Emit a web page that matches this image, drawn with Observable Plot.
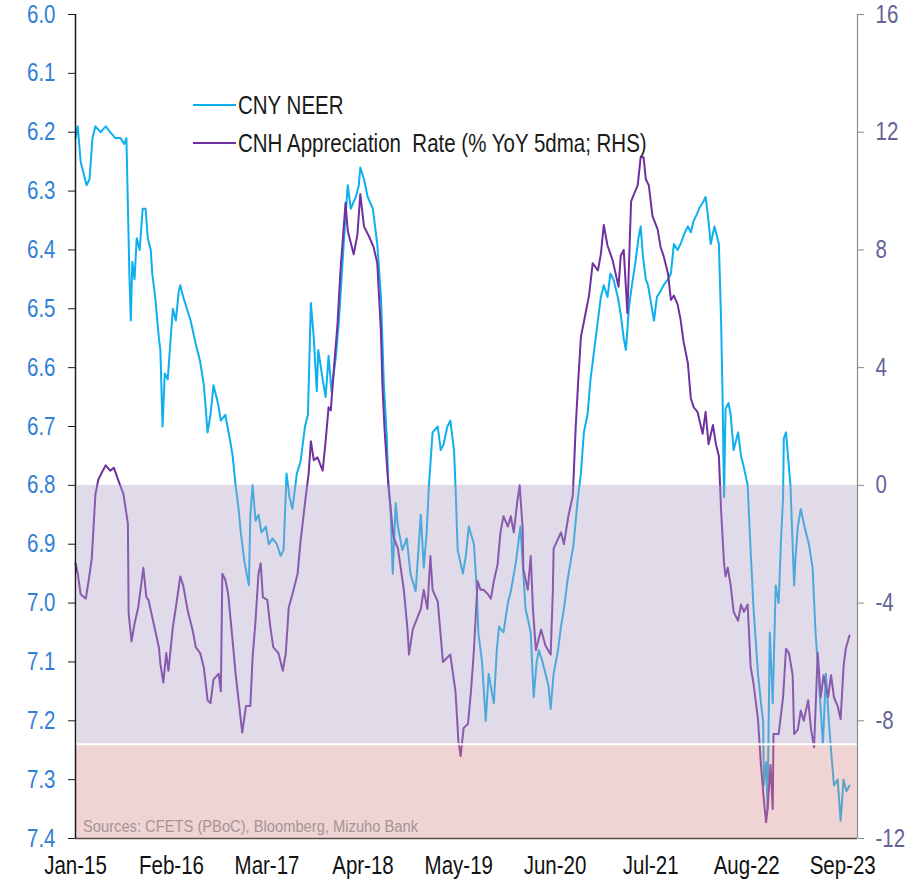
<!DOCTYPE html>
<html>
<head>
<meta charset="utf-8">
<script src="https://cdn.jsdelivr.net/npm/d3@7"></script>
<script src="https://cdn.jsdelivr.net/npm/@observablehq/plot@0.6"></script>
<style>
  html, body { margin: 0; padding: 0; background: #fff; }
  #wrap { position: relative; width: 912px; height: 881px; overflow: hidden; }
  #legend { position: absolute; left: 193px; top: 86px; font-family: 'Liberation Sans', Arial, sans-serif; font-size: 25px; color: #1a1a1a; }
  .row { display: flex; align-items: center; height: 38px; white-space: pre; }
  .sw { width: 43px; height: 2px; margin-right: 2px; flex: none; }
  .lbl { display: inline-block; transform: scaleX(0.82); transform-origin: left center; }
  #source { position: absolute; left: 83px; top: 818px; font-family: 'Liberation Sans', Arial, sans-serif; font-size: 16px; color: #a49494; white-space: pre; transform-origin: left center; }
</style>
</head>
<body>
<div id="wrap"></div>
<script>
// ---- Data ----
// CNY NEER (LHS, inverted axis): months since Jan-2015 and index level
const monthsNeer = [
  0.0,0.3,0.7,1.1,1.5,1.9,2.3,2.7,3.4,4.1,
  4.7,5.4,6.1,6.6,6.9,7.3,7.5,7.7,8.0,8.3,
  8.7,9.1,9.5,9.8,10.2,10.4,10.8,11.3,11.5,11.8,
  12.1,12.5,12.9,13.2,13.6,14.0,14.2,14.6,15.1,15.6,
  16.3,16.9,17.4,17.9,18.3,18.7,19.3,19.7,20.3,20.9,
  21.3,21.7,22.1,22.4,22.9,23.5,23.7,24.0,24.4,24.8,
  25.2,25.8,26.2,26.7,27.3,27.8,28.2,28.6,29.0,29.4,
  30.0,30.5,31.1,31.5,31.9,32.3,32.7,32.9,33.5,33.9,
  34.3,34.7,35.3,35.7,36.1,36.5,36.9,37.3,38.0,38.4,
  38.6,39.1,39.6,40.3,40.9,41.4,41.8,42.2,42.4,42.7,
  43.0,43.4,43.7,44.3,44.9,45.4,46.1,46.8,47.2,47.6,
  47.9,48.4,49.1,49.5,49.9,50.4,50.8,51.3,51.5,51.8,
  52.5,52.9,53.3,54.0,54.4,54.6,55.1,55.6,56.0,56.4,
  56.7,57.1,57.4,58.0,58.6,59.0,59.7,60.3,60.6,61.0,
  61.7,62.1,62.5,62.8,63.3,63.7,64.1,64.4,64.8,65.4,
  65.8,66.2,66.7,67.1,67.5,68.1,68.5,68.9,69.4,69.8,
  70.1,70.8,71.2,71.6,72.1,72.5,72.9,73.5,73.9,74.3,
  74.6,75.0,75.3,75.9,76.3,76.6,76.9,77.3,77.6,78.0,
  78.4,78.8,79.3,79.7,80.3,80.7,81.1,81.6,82.0,82.6,
  83.0,83.4,83.8,84.2,84.5,85.0,85.4,85.7,86.1,86.6,
  87.2,87.5,87.7,87.9,88.1,88.5,88.8,89.2,89.8,90.2,
  90.6,91.1,91.5,91.9,92.5,92.9,93.2,93.3,93.6,93.8,
  94.1,94.5,94.9,95.3,95.6,95.9,96.0,96.3,96.5,96.9,
  97.4,97.6,97.9,98.3,98.8,99.4,99.9,100.3,100.7,101.3,
  101.7,102.1,102.4,102.8,103.3,103.7,104.1,104.5,104.9
];
const cnyNeer = [
  6.21,6.19,6.25,6.27,6.29,6.28,6.21,6.19,6.20,6.19,
  6.20,6.21,6.21,6.22,6.21,6.44,6.52,6.42,6.45,6.38,
  6.40,6.33,6.33,6.38,6.40,6.44,6.48,6.55,6.57,6.70,
  6.61,6.62,6.55,6.50,6.52,6.47,6.46,6.48,6.50,6.52,
  6.56,6.59,6.63,6.71,6.68,6.63,6.66,6.69,6.68,6.72,
  6.75,6.80,6.84,6.88,6.93,6.97,6.85,6.80,6.86,6.85,
  6.88,6.87,6.90,6.89,6.90,6.92,6.91,6.78,6.82,6.84,
  6.78,6.76,6.70,6.68,6.49,6.55,6.64,6.57,6.62,6.65,
  6.58,6.64,6.58,6.52,6.44,6.36,6.29,6.33,6.31,6.29,
  6.26,6.28,6.31,6.33,6.39,6.48,6.63,6.72,6.80,6.84,
  6.95,6.83,6.87,6.91,6.89,6.95,6.98,6.85,6.94,6.88,
  6.80,6.71,6.70,6.74,6.73,6.70,6.69,6.74,6.80,6.91,
  6.95,6.92,6.87,6.90,6.98,7.05,7.10,7.20,7.12,7.15,
  7.17,7.08,7.04,7.05,7.00,6.98,6.93,6.87,6.93,7.01,
  7.05,7.16,7.10,7.08,7.10,7.12,7.14,7.18,7.12,7.08,
  7.04,7.01,6.96,6.93,6.90,6.82,6.78,6.71,6.68,6.62,
  6.59,6.52,6.48,6.46,6.48,6.44,6.45,6.48,6.51,6.55,
  6.57,6.50,6.47,6.42,6.38,6.36,6.41,6.45,6.46,6.49,
  6.52,6.48,6.47,6.46,6.45,6.44,6.39,6.40,6.39,6.37,
  6.36,6.37,6.35,6.34,6.33,6.32,6.31,6.34,6.39,6.36,
  6.39,6.52,6.65,6.82,6.67,6.66,6.68,6.74,6.71,6.75,
  6.77,6.80,6.91,7.01,7.12,7.17,7.20,7.31,7.27,7.35,
  7.05,7.17,6.97,7.00,6.90,6.82,6.72,6.71,6.74,6.80,
  6.97,6.92,6.87,6.84,6.87,6.90,6.94,7.05,7.12,7.24,
  7.12,7.20,7.25,7.31,7.30,7.37,7.30,7.32,7.31
];

// CNH appreciation rate (% YoY 5dma; RHS): months since Jan-2015 and value
const monthsCnh = [
  0.0,0.3,0.7,1.4,1.8,2.2,2.7,3.1,3.7,4.1,
  4.7,5.2,5.8,6.5,7.1,7.2,7.6,8.0,8.5,9.2,
  9.6,9.9,10.6,11.3,11.5,11.9,12.3,12.6,13.2,13.6,
  14.2,14.6,15.2,15.9,16.3,16.9,17.4,17.9,18.3,18.7,
  19.4,19.7,19.9,20.3,20.7,21.3,21.7,22.1,22.6,23.1,
  23.7,24.0,24.4,24.8,25.1,25.4,26.0,26.4,26.8,27.5,
  28.1,28.5,28.9,29.4,30.1,30.5,31.2,31.6,31.9,32.3,
  32.8,33.5,33.9,34.3,34.6,35.0,35.5,35.9,36.6,36.9,
  37.3,37.7,38.2,38.6,39.1,39.7,40.4,40.9,41.4,41.6,
  41.9,42.3,42.7,43.1,43.7,44.1,44.5,45.0,45.2,45.7,
  46.1,46.8,47.2,47.7,48.1,48.4,49.1,49.8,50.2,50.8,
  51.5,51.9,52.2,52.6,53.2,53.6,54.0,54.5,54.9,55.3,
  55.9,56.3,56.7,57.2,57.6,58.0,58.6,59.0,59.4,59.9,
  60.2,60.6,60.7,61.3,61.7,62.0,62.4,63.1,63.7,64.4,
  64.7,64.8,65.8,66.2,66.8,67.4,67.8,68.1,68.5,68.9,
  69.6,70.1,70.8,71.2,71.6,72.1,72.8,73.2,73.6,73.9,
  74.3,74.8,75.3,75.7,76.2,76.6,77.0,77.3,77.7,78.2,
  78.9,79.3,79.7,80.3,80.7,81.1,81.6,82.0,82.4,83.0,
  83.4,83.8,84.3,85.0,85.4,85.8,86.4,86.8,87.2,87.5,
  87.9,88.1,88.4,88.8,89.2,89.8,90.2,90.6,91.1,91.5,
  91.9,92.5,92.9,93.3,93.6,93.8,94.2,94.5,94.6,95.3,
  95.9,96.3,96.7,97.2,97.4,97.9,98.3,98.7,99.3,99.7,
  100.1,100.6,101.0,101.4,102.0,102.4,102.8,103.3,103.7,104.1,
  104.4,104.9
];
const cnhRate = [
  -2.65,-3.0,-3.7,-3.85,-3.2,-2.5,-0.3,0.2,0.5,0.68,
  0.5,0.6,0.17,-0.3,-1.3,-4.35,-5.3,-4.7,-4.15,-2.8,
  -3.8,-3.9,-4.7,-5.5,-6.05,-6.7,-5.7,-6.3,-4.8,-4.15,
  -3.1,-3.4,-4.25,-4.95,-5.5,-5.7,-6.2,-7.3,-7.4,-6.6,
  -6.4,-7.0,-3.0,-3.2,-3.7,-5.3,-6.4,-7.3,-8.4,-7.5,
  -7.5,-5.85,-4.6,-3.0,-2.65,-3.8,-3.9,-4.8,-5.5,-5.7,
  -6.3,-5.7,-4.15,-3.7,-3.0,-1.9,-0.4,0.4,1.5,0.85,
  0.95,0.5,1.5,2.65,2.55,3.9,5.45,7.25,9.6,8.65,
  8.25,7.85,8.5,9.9,8.8,8.5,8.1,7.55,5.2,3.4,
  1.85,0.35,-0.75,-1.75,-2.15,-2.85,-3.55,-4.9,-5.75,-4.9,
  -4.65,-4.2,-3.55,-4.2,-2.4,-3.55,-3.95,-6.0,-5.9,-5.75,
  -7.0,-8.7,-9.2,-8.25,-8.1,-7.0,-5.6,-3.25,-3.55,-3.55,
  -3.7,-3.85,-3.25,-2.7,-1.6,-1.05,-1.4,-1.05,-1.6,-0.5,
  0.0,-1.45,-2.85,-3.55,-2.4,-4.2,-5.6,-4.9,-5.45,-5.75,
  -3.55,-2.15,-1.6,-2.0,-1.05,-0.35,2.0,3.4,5.05,5.55,
  6.45,7.55,7.3,7.85,8.85,8.15,7.65,7.2,6.75,7.8,
  8.0,5.85,9.65,9.9,10.2,11.15,11.15,10.4,10.2,9.15,
  8.7,8.1,7.8,7.2,6.3,6.45,6.15,5.65,4.9,4.15,
  2.95,2.65,2.5,1.75,2.5,1.4,2.05,1.4,1.0,-0.85,
  -2.65,-3.1,-2.8,-3.4,-4.3,-4.6,-4.05,-4.3,-4.05,-6.15,
  -6.75,-7.95,-9.5,-10.7,-11.45,-11.0,-9.5,-11.0,-8.45,-8.45,
  -7.2,-5.55,-5.7,-6.45,-8.45,-8.3,-7.65,-8.0,-7.3,-8.3,
  -8.9,-5.7,-7.2,-6.45,-7.2,-6.45,-7.2,-7.5,-7.95,-6.15,
  -5.55,-5.1
];

// Axis ticks
const leftTicks = [6.0,6.1,6.2,6.3,6.4,6.5,6.6,6.7,6.8,6.9,7.0,7.1,7.2,7.3,7.4];
const rightTicks = [16,12,8,4,0,-4,-8,-12];
const xTickLabels = ["Jan-15","Feb-16","Mar-17","Apr-18","May-19","Jun-20","Jul-21","Aug-22","Sep-23"];
// Shaded bands, expressed on the RHS scale (% YoY)
const bandTops =    [0, -8.8];
const bandBottoms = [-8.8, -12];
const bandColors =  ["rgb(177,160,195)", "rgb(216,144,144)"];

// ---- Helpers ----
const FONT = "'Liberation Sans', Arial, sans-serif";
const NARROW = 0.82; // the reference uses a narrow sans face
const t0 = Date.UTC(2015, 0, 1);
const monthToDate = m => new Date(t0 + m * 30.4375 * 864e5);
const xStart = new Date(Date.UTC(2015, 0, 1));
const xEnd = new Date(Date.UTC(2023, 10, 1));
const parseTick = s => d3.utcParse("%b-%y")(s);
// RHS (-12..16) mapped onto LHS (7.4..6.0)
const rhsToLhs = v => 6.0 + (16 - v) * (1.4 / 28);
const lhsToRhs = y => Math.round(16 - (y - 6.0) * (28 / 1.4));

const neerData = monthsNeer.map((m, i) => ({date: monthToDate(m), value: cnyNeer[i]}));
const cnhData = monthsCnh.map((m, i) => ({date: monthToDate(m), value: rhsToLhs(cnhRate[i])}));
const bands = bandTops.map((t, i) => ({y1: rhsToLhs(t), y2: rhsToLhs(bandBottoms[i]), fill: bandColors[i]}));

const chart = Plot.plot({
  width: 912,
  height: 881,
  marginLeft: 75,
  marginRight: 55,
  marginTop: 14,
  marginBottom: 43,
  style: {fontFamily: FONT, fontSize: "25px", background: "transparent", overflow: "visible"},
  x: {type: "utc", domain: [xStart, xEnd]},
  y: {domain: [6.0, 7.4], reverse: true},
  marks: [
    Plot.line(neerData, {x: "date", y: "value", stroke: "#0cb0ee", strokeWidth: 2}),
    Plot.line(cnhData, {x: "date", y: "value", stroke: "#7030a0", strokeWidth: 2}),
    Plot.rect([bands[0]], {x1: xStart, x2: xEnd, y1: "y1", y2: "y2", fill: "fill", fillOpacity: 0.39, insetLeft: 2}),
    Plot.rect([bands[1]], {x1: xStart, x2: xEnd, y1: "y1", y2: "y2", fill: "fill", fillOpacity: 0.39, insetLeft: 1}),
    Plot.ruleY([rhsToLhs(bandBottoms[0])], {x1: xStart, x2: xEnd, stroke: "white", strokeWidth: 2, insetLeft: 1}),
    Plot.ruleY([7.4], {stroke: "#5b4a4a", strokeWidth: 1.5}),
    Plot.ruleX([xStart], {stroke: "#1a1a1a", strokeWidth: 1.5}),
    Plot.ruleX([xEnd], {stroke: "#8c8c8c", strokeWidth: 1.2}),
    Plot.axisY({anchor: "left", ticks: leftTicks, tickFormat: d3.format(".1f"), tickSize: 7, tickPadding: 13,
      stroke: "#1a1a1a", fill: "#2f7fd6", fontSize: 25, label: null}),
    Plot.axisY({anchor: "right", ticks: rightTicks.map(rhsToLhs), tickFormat: d => String(lhsToRhs(d)), tickSize: 6, tickPadding: 12,
      stroke: "#8c8c8c", fill: "#64649a", fontSize: 25, label: null}),
    Plot.axisX({ticks: xTickLabels.map(parseTick), tickFormat: d3.utcFormat("%b-%y"), tickSize: 0, tickPadding: 18,
      fill: "#111", fontSize: 25, label: null})
  ]
});

const wrap = document.getElementById("wrap");
wrap.appendChild(chart);

// compress axis labels to match the narrow face of the reference
chart.querySelectorAll("g[aria-label$='tick label'] text").forEach(el => {
  const w = el.getComputedTextLength();
  el.setAttribute("textLength", (w * NARROW).toFixed(1));
  el.setAttribute("lengthAdjust", "spacingAndGlyphs");
});

const legend = document.createElement("div");
legend.id = "legend";
legend.innerHTML =
  '<div class="row"><span class="sw" style="background:#0cb0ee"></span><span class="lbl">CNY NEER</span></div>' +
  '<div class="row"><span class="sw" style="background:#7030a0"></span><span class="lbl">CNH Appreciation  Rate (% YoY 5dma; RHS)</span></div>';
wrap.appendChild(legend);

const source = document.createElement("div");
source.id = "source";
source.textContent = "Sources: CFETS (PBoC), Bloomberg, Mizuho Bank";
wrap.appendChild(source);
const sw = source.getBoundingClientRect().width;
source.style.transform = `scaleX(${(335 / sw).toFixed(3)})`;
</script>
</body>
</html>
